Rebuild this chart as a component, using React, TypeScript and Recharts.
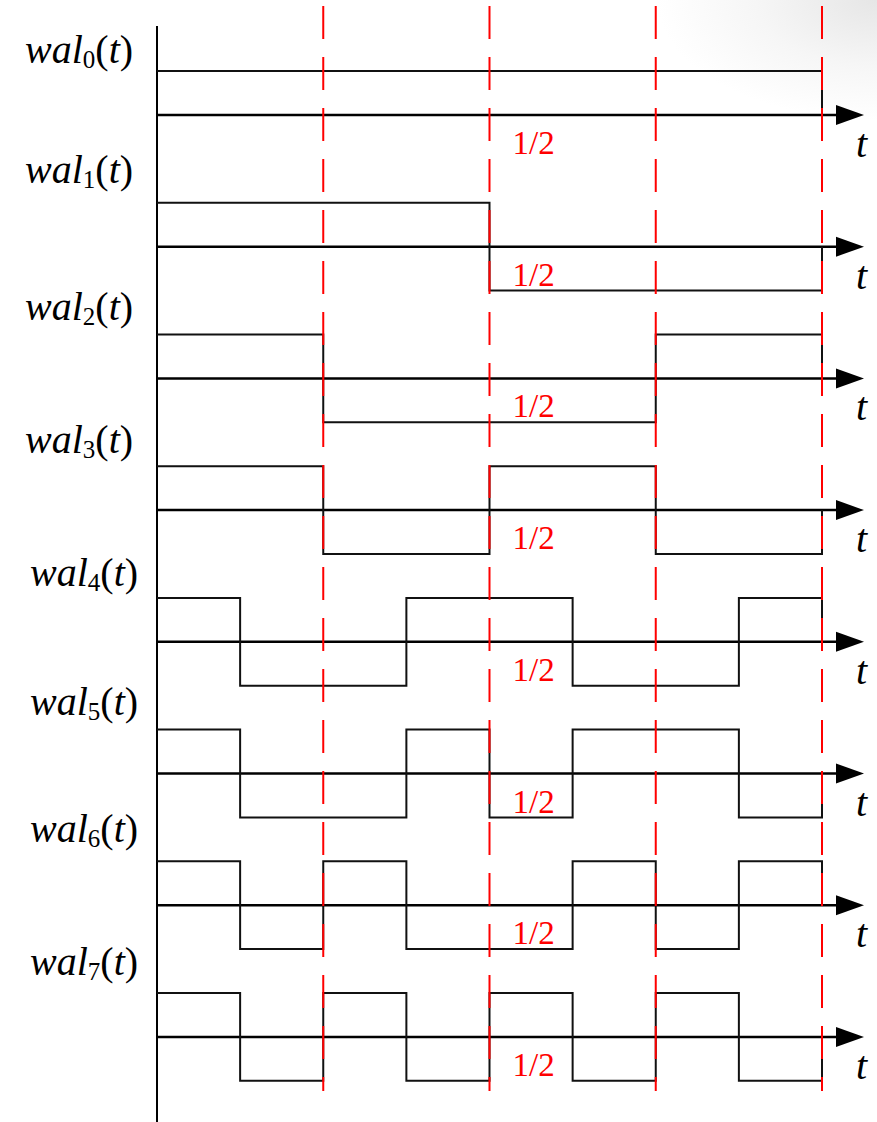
import React from 'react'
import { LineChart, Line, XAxis, YAxis, ReferenceLine, ReferenceDot } from 'recharts'

// time points (one per eighth of the interval, plus the end point)
const tPoints = [0, 0.125, 0.25, 0.375, 0.5, 0.625, 0.75, 0.875, 1]

// sign of each Walsh function on the eight sub-intervals
const wal0 = [1, 1, 1, 1, 1, 1, 1, 1]
const wal1 = [1, 1, 1, 1, -1, -1, -1, -1]
const wal2 = [1, 1, -1, -1, -1, -1, 1, 1]
const wal3 = [1, 1, -1, -1, 1, 1, -1, -1]
const wal4 = [1, -1, -1, 1, 1, -1, -1, 1]
const wal5 = [1, -1, -1, 1, -1, 1, 1, -1]
const wal6 = [1, -1, 1, -1, -1, 1, -1, 1]
const wal7 = [1, -1, 1, -1, 1, -1, 1, -1]
const series = [wal0, wal1, wal2, wal3, wal4, wal5, wal6, wal7]

const dividers = [0.25, 0.5, 0.75, 1]
const halfLabel = '1/2'
const axisLabel = 't'

// layout (pixels)
const W = 877
const H = 1122
const X0 = 157 // pixel of t = 0
const XS = 665 // pixels per unit of t
const Y0 = 115 // pixel of first row axis
const U = 43.9 // pixels per unit amplitude
const ROW_GAP = 3 // rows are 3 amplitude units apart
const labelX = [25, 25, 25, 25, 30, 30, 30, 30]
const labelDy = [-52, -64, -58, -57, -56, -59, -63, -62]

const tx = (px: number) => (px - X0) / XS
const ty = (px: number) => (Y0 - px) / U
const base = (k: number) => -ROW_GAP * k

const data = tPoints.map((t, i) => {
  const row: Record<string, number> = { t }
  series.forEach((s, k) => {
    row[`w${k}`] = base(k) + (i < s.length ? s[i] : 0)
  })
  return row
})

const serif = { fontFamily: "'Liberation Serif', serif" }

const rowLabel = (k: number) => (props: any) => (
  <text x={labelX[k]} y={props.cy + labelDy[k]} style={{ ...serif, fontSize: 40 }} fill="#000">
    <tspan style={{ fontStyle: 'italic' }}>wal</tspan>
    <tspan style={{ fontSize: 25 }} dy={5}>{k}</tspan>
    <tspan dy={-5}>(</tspan>
    <tspan style={{ fontStyle: 'italic' }}>t</tspan>
    <tspan>)</tspan>
  </text>
)

const arrowHead = (props: any) => (
  <polygon
    points={`${props.cx},${props.cy} ${props.cx - 28},${props.cy - 10} ${props.cx - 28},${props.cy + 10}`}
    fill="#000"
  />
)

const tLabel = (props: any) => (
  <text x={props.cx - 8} y={props.cy + 42} style={{ ...serif, fontSize: 40, fontStyle: 'italic' }} fill="#000">
    {axisLabel}
  </text>
)

const halfText = (props: any) => (
  <text x={props.cx + 23} y={props.cy + 39} style={{ ...serif, fontSize: 33 }} fill="#ff0000">
    {halfLabel}
  </text>
)

const tipT = tx(864)

export default function App() {
  return (
    <div
      style={{
        position: 'absolute',
        left: 0,
        top: 0,
        width: W,
        height: H,
        background: 'radial-gradient(ellipse 220px 120px at 877px 0px, #e6e6e6 0%, #f6f6f6 55%, #ffffff 100%)'
      }}
    >
      <LineChart width={W} height={H} data={data} margin={{ top: 0, right: 0, bottom: 0, left: 0 }}>
        <XAxis hide type="number" dataKey="t" domain={[tx(0), tx(W)]} allowDataOverflow />
        <YAxis hide type="number" domain={[ty(H), ty(0)]} allowDataOverflow />

        <ReferenceLine
          segment={[{ x: 0, y: ty(26) }, { x: 0, y: ty(H) }]}
          stroke="#000"
          strokeWidth={2}
        />

        {series.map((_, k) => (
          <ReferenceLine
            key={`axis-${k}`}
            segment={[{ x: 0, y: base(k) }, { x: tipT - 0.01, y: base(k) }]}
            stroke="#000"
            strokeWidth={2.5}
          />
        ))}

        {series.map((_, k) => (
          <Line
            key={`w${k}`}
            type="stepAfter"
            dataKey={`w${k}`}
            stroke="#111"
            strokeWidth={2}
            dot={false}
            activeDot={false}
            isAnimationActive={false}
          />
        ))}

        {dividers.map((d) => (
          <ReferenceLine
            key={`div-${d}`}
            segment={[{ x: d, y: ty(6) }, { x: d, y: ty(1091) }]}
            stroke="#ff0000"
            strokeWidth={2}
            strokeDasharray="33 18"
          />
        ))}

        {series.map((_, k) => (
          <ReferenceDot key={`arrow-${k}`} x={tipT} y={base(k)} r={0} shape={arrowHead} />
        ))}
        {series.map((_, k) => (
          <ReferenceDot key={`t-${k}`} x={tx(864)} y={base(k)} r={0} shape={tLabel} />
        ))}
        {series.map((_, k) => (
          <ReferenceDot key={`half-${k}`} x={0.5} y={base(k)} r={0} shape={halfText} />
        ))}
        {series.map((_, k) => (
          <ReferenceDot key={`lab-${k}`} x={0} y={base(k)} r={0} shape={rowLabel(k)} />
        ))}
      </LineChart>
    </div>
  )
}
